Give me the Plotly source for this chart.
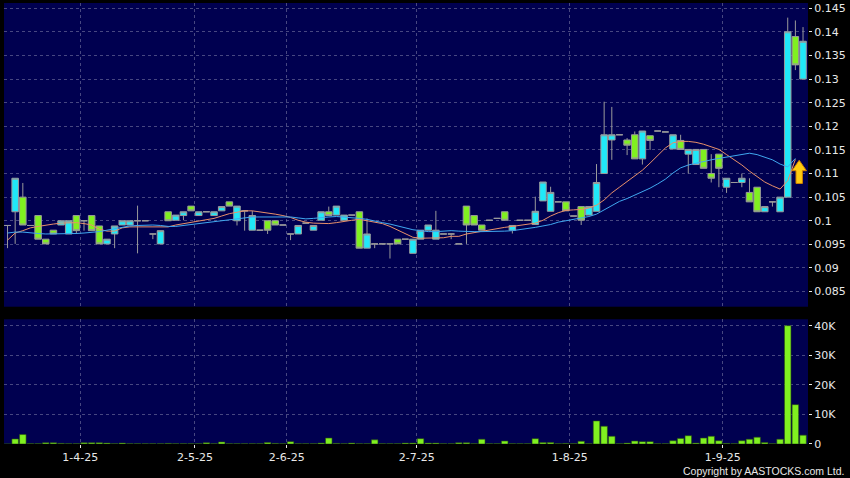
import plotly.graph_objects as go

# ---------------- data ----------------
idx = list(range(105))

opens = [0.0990,0.1019,0.1050,0.0990,0.1011,0.0961,0.0980,0.0991,0.0972,0.1011,
         0.1000,0.1011,0.0989,0.0951,0.0972,0.0991,0.0991,0.1000,0.1000,0.0972,
         0.0951,0.1019,0.1001,0.1011,0.1031,0.1011,0.1019,0.1011,0.1021,0.1040,
         0.1000,0.1021,0.0980,0.0980,0.1000,0.1000,0.0991,0.0972,0.0972,0.0995,
         0.0980,0.1001,0.1019,0.1012,0.1001,0.1012,0.1019,0.0942,0.0951,0.0951,
         0.0951,0.0961,0.0961,0.0931,0.0961,0.0980,0.0961,0.0972,0.0972,0.0951,
         0.1031,0.1011,0.0991,0.1001,0.1005,0.1019,0.0980,0.1001,0.1001,0.0992,
         0.1042,0.1020,0.1040,0.1040,0.1010,0.1030,0.1012,0.1020,0.1100,0.1171,
         0.1182,0.1171,0.1182,0.1131,0.1180,0.1190,0.1188,0.1152,0.1170,0.1141,
         0.1119,0.1151,0.1100,0.1141,0.1071,0.1081,0.1081,0.1060,0.1071,0.1019,
         0.1040,0.1019,0.1050,0.1390,0.1300]
highs = [0.0990,0.1090,0.1080,0.0990,0.1011,0.0961,0.0980,0.1000,0.1000,0.1011,
         0.1000,0.1011,0.0989,0.0961,0.0989,0.1000,0.1000,0.1032,0.1000,0.0972,
         0.0979,0.1019,0.1012,0.1019,0.1031,0.1019,0.1019,0.1019,0.1030,0.1040,
         0.1031,0.1021,0.1021,0.0980,0.1000,0.1000,0.0991,0.0972,0.0990,0.0995,
         0.0990,0.1019,0.1030,0.1031,0.1012,0.1012,0.1019,0.1005,0.0951,0.0951,
         0.0951,0.0961,0.0961,0.0961,0.0980,0.0991,0.1021,0.0972,0.0972,0.0951,
         0.1031,0.1011,0.0991,0.1001,0.1005,0.1019,0.0990,0.1001,0.1001,0.1051,
         0.1082,0.1072,0.1040,0.1040,0.1010,0.1030,0.1030,0.1120,0.1252,0.1241,
         0.1182,0.1175,0.1189,0.1190,0.1180,0.1190,0.1188,0.1182,0.1182,0.1151,
         0.1151,0.1151,0.1141,0.1141,0.1090,0.1081,0.1100,0.1090,0.1071,0.1030,
         0.1040,0.1050,0.1430,0.1424,0.1410]
lows  = [0.0942,0.0951,0.0991,0.0990,0.0961,0.0951,0.0972,0.0991,0.0972,0.0972,
         0.0979,0.0979,0.0951,0.0951,0.0942,0.0991,0.0991,0.0931,0.1000,0.0961,
         0.0951,0.1000,0.1001,0.1001,0.1021,0.1011,0.1019,0.1011,0.1021,0.1031,
         0.0990,0.0979,0.0980,0.0980,0.0972,0.0991,0.0991,0.0959,0.0972,0.0995,
         0.0980,0.1001,0.1011,0.1012,0.1001,0.1012,0.0942,0.0942,0.0942,0.0951,
         0.0920,0.0951,0.0961,0.0931,0.0961,0.0980,0.0961,0.0972,0.0961,0.0951,
         0.0951,0.0991,0.0980,0.1001,0.1005,0.1001,0.0973,0.1001,0.1001,0.0992,
         0.1042,0.1020,0.1040,0.1021,0.1010,0.0991,0.1012,0.1020,0.1100,0.1129,
         0.1182,0.1139,0.1131,0.1119,0.1150,0.1190,0.1188,0.1152,0.1151,0.1100,
         0.1119,0.1111,0.1081,0.1071,0.1059,0.1081,0.1071,0.1040,0.1019,0.1019,
         0.1030,0.1019,0.1050,0.1319,0.1300]
closes = [0.0990,0.1090,0.0991,0.0990,0.0961,0.0951,0.0972,0.1000,0.1000,0.0979,
          0.1000,0.0979,0.0951,0.0961,0.0989,0.1000,0.1000,0.1000,0.1000,0.0972,
          0.0979,0.1000,0.1012,0.1019,0.1021,0.1019,0.1019,0.1019,0.1030,0.1031,
          0.1031,0.1021,0.1011,0.0980,0.0980,0.0991,0.0991,0.0972,0.0990,0.0995,
          0.0990,0.1019,0.1011,0.1031,0.1012,0.1012,0.0942,0.0972,0.0951,0.0951,
          0.0951,0.0951,0.0961,0.0961,0.0980,0.0991,0.0980,0.0972,0.0972,0.0951,
          0.0991,0.0991,0.0980,0.1001,0.1005,0.1001,0.0990,0.1001,0.1001,0.1020,
          0.1082,0.1060,0.1040,0.1021,0.1010,0.1001,0.1030,0.1081,0.1182,0.1182,
          0.1182,0.1160,0.1131,0.1190,0.1170,0.1190,0.1188,0.1182,0.1151,0.1151,
          0.1151,0.1111,0.1090,0.1111,0.1090,0.1081,0.1090,0.1040,0.1019,0.1030,
          0.1040,0.1050,0.1400,0.1330,0.1380]

# volume in thousands of shares
volume_k = [0.0,1.7,3.2,0.1,0.1,0.4,0.4,0.2,0.1,0.1,
            0.4,0.4,0.4,0.3,0.1,0.3,0.1,0.1,0.1,0.1,
            0.1,0.2,0.1,0.1,0.1,0.1,0.4,0.1,0.7,0.1,
            0.1,0.1,0.1,0.1,0.5,0.2,0.1,0.8,0.1,0.1,
            0.1,0.3,2.0,0.2,0.1,0.3,0.1,0.1,1.4,0.1,
            0.1,0.1,0.3,0.3,1.8,0.3,0.3,0.1,0.1,0.4,
            0.4,0.1,1.6,0.1,0.1,1.0,0.1,0.1,0.1,1.8,
            0.5,0.5,0.1,0.2,0.1,0.9,0.1,7.8,6.0,2.6,
            0.1,0.3,1.0,0.8,0.8,0.1,0.1,1.1,1.9,2.8,
            0.3,2.0,2.6,1.1,0.2,0.1,1.1,1.6,2.3,0.5,
            0.1,1.6,40.0,13.3,3.0]

# moving averages as drawn (orange = short, blue = long)
ma_short = [0.0959,0.0974,0.0979,0.0985,0.0988,0.0991,0.0993,0.0995,0.0996,0.0996,
            0.0994,0.0991,0.0982,0.0978,0.0978,0.0985,0.0987,0.0987,0.0987,0.0987,
            0.0986,0.0987,0.0991,0.0994,0.0997,0.1000,0.1003,0.1005,0.1010,0.1015,
            0.1018,0.1021,0.1021,0.1019,0.1016,0.1014,0.1011,0.1007,0.1001,0.0997,
            0.0995,0.0994,0.0994,0.0996,0.0999,0.1001,0.1003,0.1000,0.0997,0.0994,
            0.0988,0.0980,0.0972,0.0965,0.0963,0.0963,0.0963,0.0964,0.0967,0.0967,
            0.0972,0.0975,0.0977,0.0980,0.0983,0.0986,0.0988,0.0990,0.0992,0.0995,
            0.1001,0.1010,0.1017,0.1022,0.1023,0.1024,0.1027,0.1033,0.1044,0.1059,
            0.1071,0.1083,0.1095,0.1107,0.1122,0.1139,0.1154,0.1165,0.1168,0.1168,
            0.1166,0.1162,0.1157,0.1151,0.1140,0.1129,0.1118,0.1105,0.1093,0.1082,
            0.1074,0.1067,0.1085,0.1130]
ma_long = [0.0974,0.0976,0.0976,0.0974,0.0973,0.0972,0.0972,0.0972,0.0972,0.0973,
           0.0974,0.0975,0.0977,0.0980,0.0983,0.0987,0.0989,0.0990,0.0991,0.0991,
           0.0990,0.0988,0.0988,0.0990,0.0992,0.0994,0.0996,0.0998,0.1000,0.1003,
           0.1005,0.1007,0.1008,0.1008,0.1008,0.1008,0.1008,0.1008,0.1006,0.1004,
           0.1005,0.1007,0.1008,0.1009,0.1008,0.1006,0.1005,0.1003,0.0999,0.0996,
           0.0993,0.0989,0.0985,0.0981,0.0979,0.0977,0.0977,0.0978,0.0979,0.0978,
           0.0977,0.0977,0.0977,0.0977,0.0977,0.0978,0.0979,0.0981,0.0983,0.0986,
           0.0989,0.0992,0.0997,0.1000,0.1003,0.1005,0.1009,0.1014,0.1023,0.1033,
           0.1041,0.1047,0.1054,0.1061,0.1069,0.1078,0.1088,0.1101,0.1112,0.1118,
           0.1122,0.1125,0.1129,0.1132,0.1135,0.1138,0.1141,0.1143,0.1140,0.1135,
           0.1129,0.1120,0.1114,0.1132]

tick_pos = [9.5, 24.5, 36.5, 53.5, 73.5, 93.5]
tick_labels = ["1-4-25", "2-5-25", "2-6-25", "2-7-25", "1-8-25", "1-9-25"]
price_ticks = [0.085, 0.09, 0.095, 0.1, 0.105, 0.11, 0.115, 0.12, 0.125, 0.13, 0.135, 0.14, 0.145]
price_labels = ["0.085", "0.09", "0.095", "0.1", "0.105", "0.11", "0.115", "0.12",
                "0.125", "0.13", "0.135", "0.14", "0.145"]
vol_ticks = [0, 10, 20, 30, 40]
vol_labels = ["0", "10K", "20K", "30K", "40K"]

# buy-signal arrow (candle index, low/high price)
signal_x = 103.5
signal_low, signal_high = 0.1079, 0.1128

# ---------------- styling ----------------
BG = "#000050"
GRID = "rgba(130,130,170,0.55)"
TXT = "#e8e8e8"
CYAN = "#20e8f8"
LIME = "#80f020"
EDGE = "#9a9a9a"
FONT = "DejaVu Sans"

fig = go.Figure()

fig.add_trace(go.Candlestick(
    x=idx, open=opens, high=highs, low=lows, close=closes,
    increasing=dict(fillcolor=CYAN, line=dict(color=EDGE, width=1)),
    decreasing=dict(fillcolor=LIME, line=dict(color=EDGE, width=1)),
    whiskerwidth=0, xaxis="x", yaxis="y", showlegend=False, hoverinfo="skip"))

fig.add_trace(go.Scatter(x=idx[:len(ma_short)], y=ma_short, mode="lines",
                         line=dict(color="#e8906a", width=1), xaxis="x", yaxis="y",
                         showlegend=False, hoverinfo="skip"))
fig.add_trace(go.Scatter(x=idx[:len(ma_long)], y=ma_long, mode="lines",
                         line=dict(color="#40a8f0", width=1), xaxis="x", yaxis="y",
                         showlegend=False, hoverinfo="skip"))

fig.add_trace(go.Bar(x=idx, y=volume_k, width=0.85,
                     marker=dict(color=LIME, line=dict(color="#2a5010", width=0.6)),
                     xaxis="x2", yaxis="y2", showlegend=False, hoverinfo="skip"))

# arrow glyph built from the signal values
sx, lo, hi = signal_x, signal_low, signal_high
mid = hi - (hi - lo) * 0.45
arrow_path = (f"M {sx-0.42},{lo} L {sx+0.42},{lo} L {sx+0.42},{mid} L {sx+0.95},{mid} "
              f"L {sx},{hi} L {sx-0.95},{mid} L {sx-0.42},{mid} Z")
fig.add_shape(type="path", path=arrow_path, xref="x", yref="y",
              fillcolor="#ffcc10", line=dict(color="#d08000", width=1))

x_common = dict(range=[-0.46, 104.65], tickvals=tick_pos, ticktext=tick_labels,
                showgrid=True, gridcolor=GRID, griddash="3px,3px", gridwidth=1,
                zeroline=False, showline=False, fixedrange=True)

fig.update_layout(
    width=850, height=478,
    paper_bgcolor="black", plot_bgcolor=BG,
    margin=dict(l=4, r=42, t=3, b=34),
    boxgap=0.12, boxgroupgap=0.03,
    xaxis=dict(domain=[0, 1], anchor="y", showticklabels=False, ticks="",
               rangeslider=dict(visible=False), **x_common),
    xaxis2=dict(domain=[0, 1], anchor="y2", showticklabels=True, ticks="outside",
                ticklen=3, tickcolor=TXT,
                tickfont=dict(family=FONT, size=11, color=TXT), **x_common),
    yaxis=dict(domain=[0.3113, 1.0], range=[0.0818, 0.1461], side="right",
               tickvals=price_ticks, ticktext=price_labels, ticks="outside",
               ticklen=3, tickcolor=TXT, tickfont=dict(family=FONT, size=11, color=TXT),
               showgrid=True, gridcolor=GRID, griddash="3px,3px", zeroline=False,
               showline=False, fixedrange=True),
    yaxis2=dict(domain=[0.0, 0.2828], range=[0, 42.16], side="right",
                tickvals=vol_ticks, ticktext=vol_labels, ticks="outside",
                ticklen=3, tickcolor=TXT, tickfont=dict(family=FONT, size=11, color=TXT),
                showgrid=True, gridcolor=GRID, griddash="3px,3px", zeroline=False,
                showline=False, fixedrange=True),
    annotations=[dict(text="Copyright by AASTOCKS.com Ltd.", xref="paper", yref="paper",
                      x=1.047, y=-0.061, xanchor="right", yanchor="middle",
                      showarrow=False, font=dict(family="Liberation Sans", size=10.5, color=TXT))],
)

fig.write_html("out.html", config={"displayModeBar": False},
               post_script="document.body.style.margin='0';document.body.style.background='black';")
